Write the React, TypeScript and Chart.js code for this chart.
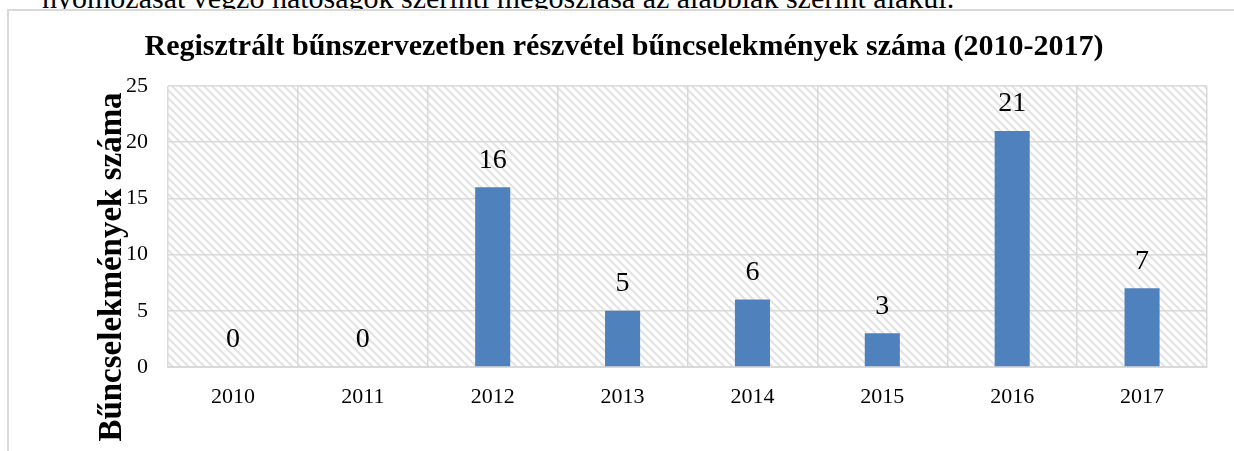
import React, { useEffect, useRef } from "react";
import { Chart, registerables } from "chart.js";

Chart.register(...registerables);

const categories = ["2010", "2011", "2012", "2013", "2014", "2015", "2016", "2017"];
const values = [0, 0, 16, 5, 6, 3, 21, 7];
const yTicks = [0, 5, 10, 15, 20, 25];
const chartTitle = "Regisztrált bűnszervezetben részvétel bűncselekmények száma (2010-2017)";
const yAxisTitle = "Bűncselekmények száma";
const introText = "nyomozását végző hatóságok szerinti megoszlása az alábbiak szerint alakul.";

const SERIF = "'Liberation Serif', 'Times New Roman', serif";
const GRID = "#d9d9d9";

function makePattern(): CanvasPattern | string {
  const t = document.createElement("canvas");
  t.width = 8;
  t.height = 8;
  const c = t.getContext("2d");
  if (!c) return "#eeeeee";
  c.fillStyle = "#ffffff";
  c.fillRect(0, 0, 8, 8);
  c.strokeStyle = "#e3e3e3";
  c.lineWidth = 2.2;
  for (const off of [-8, 0, 8]) {
    c.beginPath();
    c.moveTo(off - 2, -2);
    c.lineTo(off + 10, 10);
    c.stroke();
  }
  const p = c.createPattern(t, "repeat");
  return p || "#eeeeee";
}

export default function App() {
  const ref = useRef<HTMLCanvasElement | null>(null);

  useEffect(() => {
    if (!ref.current) return;
    const pattern = makePattern();

    const bgPlugin = {
      id: "bgHatch",
      beforeDraw(chart: any) {
        const { ctx, chartArea } = chart;
        ctx.save();
        ctx.fillStyle = "#ffffff";
        ctx.fillRect(0, 0, chart.width, chart.height);
        ctx.fillStyle = pattern;
        ctx.fillRect(chartArea.left, chartArea.top, chartArea.right - chartArea.left, chartArea.bottom - chartArea.top);
        ctx.restore();
      },
    };

    const textPlugin = {
      id: "texts",
      afterDraw(chart: any) {
        const { ctx } = chart;
        ctx.save();
        ctx.fillStyle = "#000000";
        ctx.textAlign = "center";
        ctx.textBaseline = "middle";
        ctx.font = `bold 30px ${SERIF}`;
        ctx.fillText(chartTitle, 615, 36);
        ctx.translate(103, 256);
        ctx.rotate(-Math.PI / 2);
        ctx.font = `bold 33px ${SERIF}`;
        ctx.fillText(yAxisTitle, 0, 0);
        ctx.restore();
      },
    };

    const labelPlugin = {
      id: "valueLabels",
      afterDatasetsDraw(chart: any) {
        const { ctx } = chart;
        const meta = chart.getDatasetMeta(0);
        ctx.save();
        ctx.fillStyle = "#000000";
        ctx.textAlign = "center";
        ctx.textBaseline = "middle";
        ctx.font = `28px ${SERIF}`;
        meta.data.forEach((bar: any, i: number) => {
          ctx.fillText(String(values[i]), bar.x, bar.y - 27);
        });
        ctx.restore();
      },
    };

    const chart = new Chart(ref.current, {
      type: "bar",
      data: {
        labels: categories,
        datasets: [
          {
            data: values,
            backgroundColor: "#4f81bd",
            borderWidth: 0,
            categoryPercentage: 1,
            barPercentage: 0.27,
          },
        ],
      },
      options: {
        responsive: false,
        animation: false,
        devicePixelRatio: 1,
        layout: { padding: { left: 0, right: 27, top: 75, bottom: 0 } },
        plugins: {
          legend: { display: false },
          title: { display: false },
          tooltip: { enabled: false },
        },
        scales: {
          x: {
            offset: true,
            grid: { color: GRID, lineWidth: 1.5, drawTicks: false, offset: true },
            border: { display: true, color: GRID, width: 2 },
            ticks: { font: { family: SERIF, size: 22 }, color: "#000000", padding: 17 },
            afterFit: (s: any) => {
              s.height = 84;
            },
          },
          y: {
            min: 0,
            max: 25,
            grid: { color: GRID, lineWidth: 1.5, drawTicks: false },
            border: { display: false },
            ticks: { font: { family: SERIF, size: 22 }, color: "#000000", padding: 20 },
            afterBuildTicks: (s: any) => {
              s.ticks = yTicks.map((v) => ({ value: v }));
            },
            afterFit: (s: any) => {
              s.width = 159;
            },
          },
        },
      },
      plugins: [bgPlugin, labelPlugin, textPlugin],
    });

    return () => chart.destroy();
  }, []);

  return (
    <div
      style={{
        position: "fixed",
        left: 0,
        top: 0,
        width: 1234,
        height: 451,
        overflow: "hidden",
        background: "#ffffff",
      }}
    >
      <div
        style={{
          position: "absolute",
          left: 42,
          top: -17,
          fontFamily: SERIF,
          fontSize: 30,
          lineHeight: "30px",
          whiteSpace: "nowrap",
          color: "#000000",
        }}
      >
        {introText}
      </div>
      <div
        style={{
          position: "absolute",
          left: 7,
          top: 9,
          width: 1227,
          height: 442,
          boxSizing: "border-box",
          borderLeft: `2px solid ${GRID}`,
          borderTop: `2px solid ${GRID}`,
          background: "#ffffff",
        }}
      >
        <canvas ref={ref} width={1225} height={440} style={{ display: "block", width: 1225, height: 440 }} />
      </div>
    </div>
  );
}
